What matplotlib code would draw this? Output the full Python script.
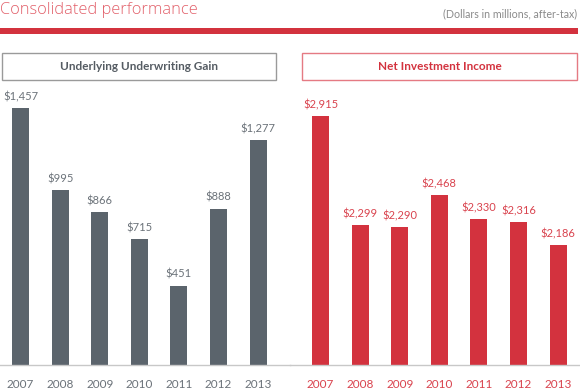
import matplotlib.pyplot as plt
from matplotlib.patches import Rectangle

years = ["2007", "2008", "2009", "2010", "2011", "2012", "2013"]
underwriting_gain = [1457, 995, 866, 715, 451, 888, 1277]
investment_income = [2915, 2299, 2290, 2468, 2330, 2316, 2186]

gray = "#5b646c"
red = "#d3323e"

plt.rcParams["font.family"] = ["Lato", "DejaVu Sans"]

fig = plt.figure(figsize=(5.8, 3.92), dpi=100)
W, H = 580.0, 392.0

# Header: title, subtitle and the red rule
fig.text(0 / W, 1 - 10.5 / H, "Consolidated performance", color="#e2606a",
         fontsize=11.8, family=["Open Sans", "DejaVu Sans"], fontweight="light",
         va="center", ha="left")
fig.text(577 / W, 1 - 14 / H, "(Dollars in millions, after-tax)", color="#8a8a8a",
         fontsize=7.7, va="center", ha="right")
fig.patches.append(Rectangle((0, 1 - 34 / H), 578 / W, 6 / H, transform=fig.transFigure,
                             facecolor=red, edgecolor="none"))

# Panel title boxes
boxes = [(2, 276, "Underlying Underwriting Gain", "#9a9a9a", "#555c63"),
         (302, 577, "Net Investment Income", "#e57a83", red)]
for x0, x1, label, edge, txt in boxes:
    fig.patches.append(Rectangle((x0 / W, 1 - 80 / H), (x1 - x0) / W, 27 / H,
                                 transform=fig.transFigure, facecolor="white",
                                 edgecolor=edge, linewidth=1))
    fig.text((x0 + x1) / 2 / W, 1 - 67 / H, label, color=txt, fontsize=8.5,
             fontweight="bold", ha="center", va="center")

# Axes: same vertical scale, right panel starts at 1500
px_per_unit = 0.1762
ax_bottom, ax_height = 27, 275
span = ax_height / px_per_unit
spacing = 39.6
x = range(len(years))

panels = [
    (0, underwriting_gain, gray, "#6b7279", 0, 20.5),
    (290, investment_income, red, "#d9434e", 1504, 30.5),
]
for left_px, values, color, label_color, ymin, first_px in panels:
    ax = fig.add_axes([left_px / W, ax_bottom / H, 290 / W, ax_height / H])
    bars = ax.bar(x, values, width=0.43, color=color)
    a = -first_px / spacing
    ax.set_xlim(a, a + 290 / spacing)
    ax.set_ylim(ymin, ymin + span)
    ax.bar_label(bars, labels=[f"${v:,}" for v in values], padding=4,
                 fontsize=8, color=label_color)
    ax.set_xticks(list(x))
    ax.set_xticklabels(years, fontsize=8.5, color=label_color)
    ax.tick_params(axis="x", length=0, pad=10)
    ax.set_yticks([])
    for s in ["top", "left", "right"]:
        ax.spines[s].set_visible(False)
    ax.spines["bottom"].set_color("#c8c8c8")
    ax.spines["bottom"].set_linewidth(1)
    ax.patch.set_alpha(0)

fig.savefig("out.png", dpi=100)
